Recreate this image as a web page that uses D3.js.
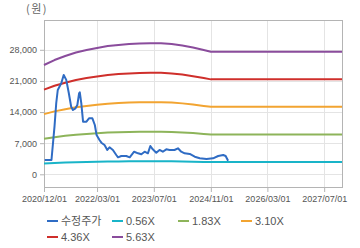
<!DOCTYPE html>
<html>
<head>
<meta charset="utf-8">
<script src="https://cdn.jsdelivr.net/npm/d3@7"></script>
<style>
  body { margin: 0; background: #fff; }
  svg { display: block; font-family: "Liberation Sans", Arial, "Noto Sans CJK KR", sans-serif; }
</style>
</head>
<body>
<div id="chart"></div>
<script>
const margin = { top: 20, right: 18, bottom: 61, left: 44 },
      width = 360 - margin.left - margin.right,
      height = 248 - margin.top - margin.bottom;

// band dates (quarterly, flat after 2024/11)
const bandDates = ["2020-12-01", "2021-03-01", "2021-06-01", "2021-09-01", "2021-12-01", "2022-03-01",
  "2022-06-01", "2022-09-01", "2022-12-01", "2023-03-01", "2023-06-01", "2023-09-01", "2023-12-01",
  "2024-03-01", "2024-06-01", "2024-09-01", "2024-11-01", "2027-12-01"];

const band056 = [2445, 2556, 2646, 2726, 2780, 2825, 2869, 2895, 2914, 2924, 2930, 2930, 2914, 2882, 2835, 2780, 2742, 2742];
const band183 = [7990, 8354, 8647, 8907, 9084, 9231, 9377, 9459, 9523, 9556, 9576, 9576, 9523, 9417, 9263, 9084, 8962, 8962];
const band310 = [13535, 14152, 14648, 15088, 15388, 15636, 15884, 16024, 16132, 16188, 16222, 16222, 16132, 15953, 15692, 15388, 15181, 15181];
const band436 = [19036, 19903, 20601, 21220, 21643, 21992, 22341, 22537, 22689, 22768, 22816, 22816, 22689, 22437, 22070, 21643, 21351, 21351];
const band563 = [24581, 25701, 26602, 27401, 27947, 28398, 28848, 29101, 29299, 29400, 29462, 29462, 29299, 28972, 28499, 27947, 27570, 27570];

// adjusted price
const priceDates = ["2020-12-07", "2021-02-03", "2021-03-01", "2021-03-16", "2021-03-29", "2021-04-28",
  "2021-05-19", "2021-06-10", "2021-07-02", "2021-07-22", "2021-08-06", "2021-08-28", "2021-09-13",
  "2021-09-28", "2021-10-04", "2021-10-17", "2021-11-01", "2021-11-30", "2021-12-22", "2022-01-20",
  "2022-02-10", "2022-02-25", "2022-03-22", "2022-04-07", "2022-05-04", "2022-05-28", "2022-06-16",
  "2022-07-15", "2022-08-13", "2022-08-28", "2022-09-25", "2022-11-07", "2022-12-06", "2023-01-13",
  "2023-02-16", "2023-03-16", "2023-04-13", "2023-05-11", "2023-06-01", "2023-06-22", "2023-07-22",
  "2023-08-19", "2023-09-16", "2023-10-16", "2023-11-13", "2023-12-25", "2024-01-24", "2024-02-21",
  "2024-03-21", "2024-05-04", "2024-06-16", "2024-07-29", "2024-09-25", "2024-11-20", "2025-01-03",
  "2025-02-15", "2025-03-08", "2025-03-29"];
const priceValues = [3216, 3216, 10705, 16035, 18960, 20470,
  22350, 21230, 18220, 15200, 14460, 14840, 15590,
  18220, 18440, 15970, 11830, 11830, 12590, 12590,
  11090, 8840, 7710, 7110, 6590, 5470, 6070,
  5470, 4340, 3820, 4120, 4120, 3820, 5080,
  4720, 4500, 5080, 4720, 6360, 5620, 4860,
  5470, 5080, 5620, 5470, 5470, 5850, 5080,
  4720, 4570, 3960, 3600, 3440, 3600, 4120,
  4340, 4120, 3060];

const xTicks = ["2020-12-01", "2022-03-01", "2023-07-01", "2024-11-01", "2026-03-01", "2027-07-01"];
const yTicks = [0, 7000, 14000, 21000, 28000];

const seriesNames = ["수정주가", "0.56X", "1.83X", "3.10X", "4.36X", "5.63X"];
const seriesColors = ["#2f6cc4", "#19b4c8", "#8db45a", "#f2a431", "#cf2f2b", "#8a4c9c"];

const parse = d3.timeParse("%Y-%m-%d");
const fmt = d3.timeFormat("%Y/%m/%d");

const series = [
  priceDates.map((d, i) => ({ date: parse(d), value: priceValues[i] })),
  ...[band056, band183, band310, band436, band563].map(vals =>
    bandDates.map((d, i) => ({ date: parse(d), value: vals[i] })))
];

const svg = d3.select("#chart")
  .append("svg")
    .attr("width", width + margin.left + margin.right)
    .attr("height", height + margin.top + margin.bottom);

const g = svg.append("g")
    .attr("transform", `translate(${margin.left},${margin.top})`);

const x = d3.scaleTime()
    .domain([parse("2020-12-01"), parse("2027-12-01")])
    .range([0, width]);

const y = d3.scaleLinear()
    .domain([-2856, 34705])
    .range([height, 0]);

// grid
g.selectAll(".hgrid")
  .data(yTicks)
  .enter().append("line")
    .attr("x1", 0).attr("x2", width)
    .attr("y1", d => Math.round(y(d)) + 0.5).attr("y2", d => Math.round(y(d)) + 0.5)
    .style("stroke", "#e4e4e4");

g.selectAll(".vgrid")
  .data(xTicks)
  .enter().append("line")
    .attr("x1", d => Math.round(x(parse(d))) + 0.5).attr("x2", d => Math.round(x(parse(d))) + 0.5)
    .attr("y1", 0).attr("y2", height)
    .style("stroke", "#e4e4e4");

// axes
const xAxis = g.append("g")
    .attr("transform", `translate(0,${height})`)
    .call(d3.axisBottom(x).tickValues(xTicks.map(parse)).tickFormat(fmt).tickSize(5).tickPadding(4));

const yAxis = g.append("g")
    .call(d3.axisLeft(y).tickValues(yTicks).tickFormat(d3.format(",")).tickSize(4).tickPadding(3));

[xAxis, yAxis].forEach(a => {
  a.select(".domain").remove();
  a.selectAll("line").style("stroke", "#b4b4b4");
  a.selectAll("text").style("fill", "#555").style("font-size", "9px")
    .style("font-family", "'Liberation Sans', Arial, sans-serif");
});

// frame
g.append("rect")
    .attr("x", 0.5).attr("y", 0.5)
    .attr("width", width).attr("height", height)
    .style("fill", "none")
    .style("stroke", "#b4b4b4");

// lines
const line = d3.line()
    .x(d => x(d.date))
    .y(d => y(d.value));

g.selectAll(".series")
  .data(series.slice(1).concat([series[0]]))
  .enter().append("path")
    .attr("d", line)
    .style("fill", "none")
    .style("stroke-width", 2)
    .style("stroke-linejoin", "round")
    .style("stroke", (d, i) => i === 5 ? seriesColors[0] : seriesColors[i + 1]);

// unit label
svg.append("text")
    .attr("x", 26).attr("y", 13)
    .style("font-size", "11px")
    .style("font-family", "'Noto Sans CJK KR', sans-serif")
    .style("letter-spacing", "1.5px")
    .style("fill", "#666")
    .text("(원)");

// legend
const legendPos = [[47, 221], [112, 221], [178, 221], [241, 221], [47, 237], [112, 237]];
const legend = svg.selectAll(".legend")
  .data(seriesNames)
  .enter().append("g")
    .attr("transform", (d, i) => `translate(${legendPos[i][0]},${legendPos[i][1]})`);

legend.append("line")
    .attr("x1", 0).attr("x2", 11)
    .style("stroke", (d, i) => seriesColors[i])
    .style("stroke-width", 2);

legend.append("text")
    .attr("x", 14).attr("dy", "0.35em")
    .style("font-size", "11px")
    .style("fill", "#555")
    .text(d => d);
</script>
</body>
</html>
